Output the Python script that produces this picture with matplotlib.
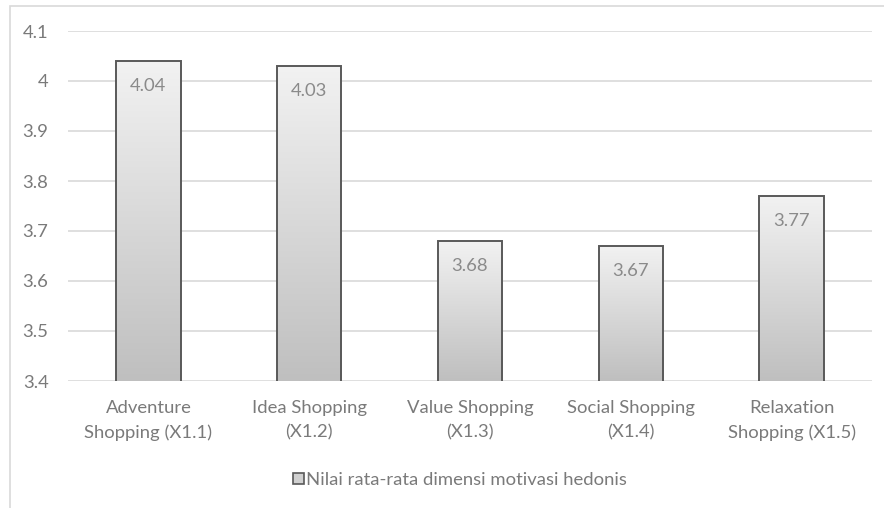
import numpy as np
import matplotlib.pyplot as plt
from matplotlib.patches import Rectangle

plt.rcParams['font.family'] = ['Lato', 'DejaVu Sans']

# Data
categories = ["Adventure\nShopping (X1.1)", "Idea Shopping\n(X1.2)", "Value Shopping\n(X1.3)",
              "Social Shopping\n(X1.4)", "Relaxation\nShopping (X1.5)"]
values = [4.04, 4.03, 3.68, 3.67, 3.77]
yticks = [3.4, 3.5, 3.6, 3.7, 3.8, 3.9, 4.0, 4.1]
ytick_labels = ["3.4", "3.5", "3.6", "3.7", "3.8", "3.9", "4", "4.1"]
series_name = "Nilai rata-rata dimensi motivasi hedonis"

text_gray = "#7a7a7a"
grid_gray = "#d9d9d9"
fs = 13.3

fig = plt.figure(figsize=(8.84, 5.08), dpi=100)
ax = fig.add_axes([68 / 884, 1 - 381 / 508, (872 - 68) / 884, (381 - 31) / 508])

# outer chart frame
fig.patches.append(Rectangle((9.5 / 884, -0.1), 1.2, 1.1 - 6.5 / 508, transform=fig.transFigure,
                             fill=False, edgecolor="#d9d9d9", linewidth=1.2, zorder=0))

x = np.arange(len(values))
width = 0.40
bars = ax.bar(x, values, width, bottom=0, color="none", edgecolor="#595959",
              linewidth=1.4, zorder=3)

# vertical gradient fill, light at the top, darker at the bottom
grad = np.linspace(0, 1, 256).reshape(-1, 1)
cmap = plt.matplotlib.colors.LinearSegmentedColormap.from_list("g", ["#f2f2f2", "#bfbfbf"])
for b, v in zip(bars, values):
    x0 = b.get_x()
    im = ax.imshow(grad, extent=[x0, x0 + width, 3.4, v], origin="upper", aspect="auto",
                   cmap=cmap, zorder=2)
    im.set_clip_path(b)
    ax.text(x0 + width / 2, v - 0.05, f"{v:.2f}", ha="center", va="center",
            fontsize=fs, color="#8a8a8a", zorder=4)

ax.set_xlim(-0.5, len(values) - 0.5)
ax.set_ylim(3.4, 4.1)
ax.set_yticks(yticks)
ax.set_yticklabels(ytick_labels)
ax.set_xticks(x)
ax.set_xticklabels(categories, linespacing=1.6)
ax.tick_params(axis="both", length=0, labelsize=fs, labelcolor=text_gray)
ax.tick_params(axis="y", pad=14)
ax.tick_params(axis="x", pad=14)
ax.grid(axis="y", color=grid_gray, linewidth=1.2, zorder=0)
for s in ax.spines.values():
    s.set_visible(False)

# legend
leg_handle = Rectangle((0, 0), 1, 1, facecolor="#d0d0d0", edgecolor="#595959", linewidth=1.2)
fig.legend([leg_handle], [series_name], loc="center", bbox_to_anchor=(460 / 884, 1 - 480 / 508),
           frameon=False, fontsize=fs, labelcolor=text_gray, handlelength=0.6,
           handleheight=0.6, handletextpad=0.15)

fig.savefig("out.png", dpi=100)
